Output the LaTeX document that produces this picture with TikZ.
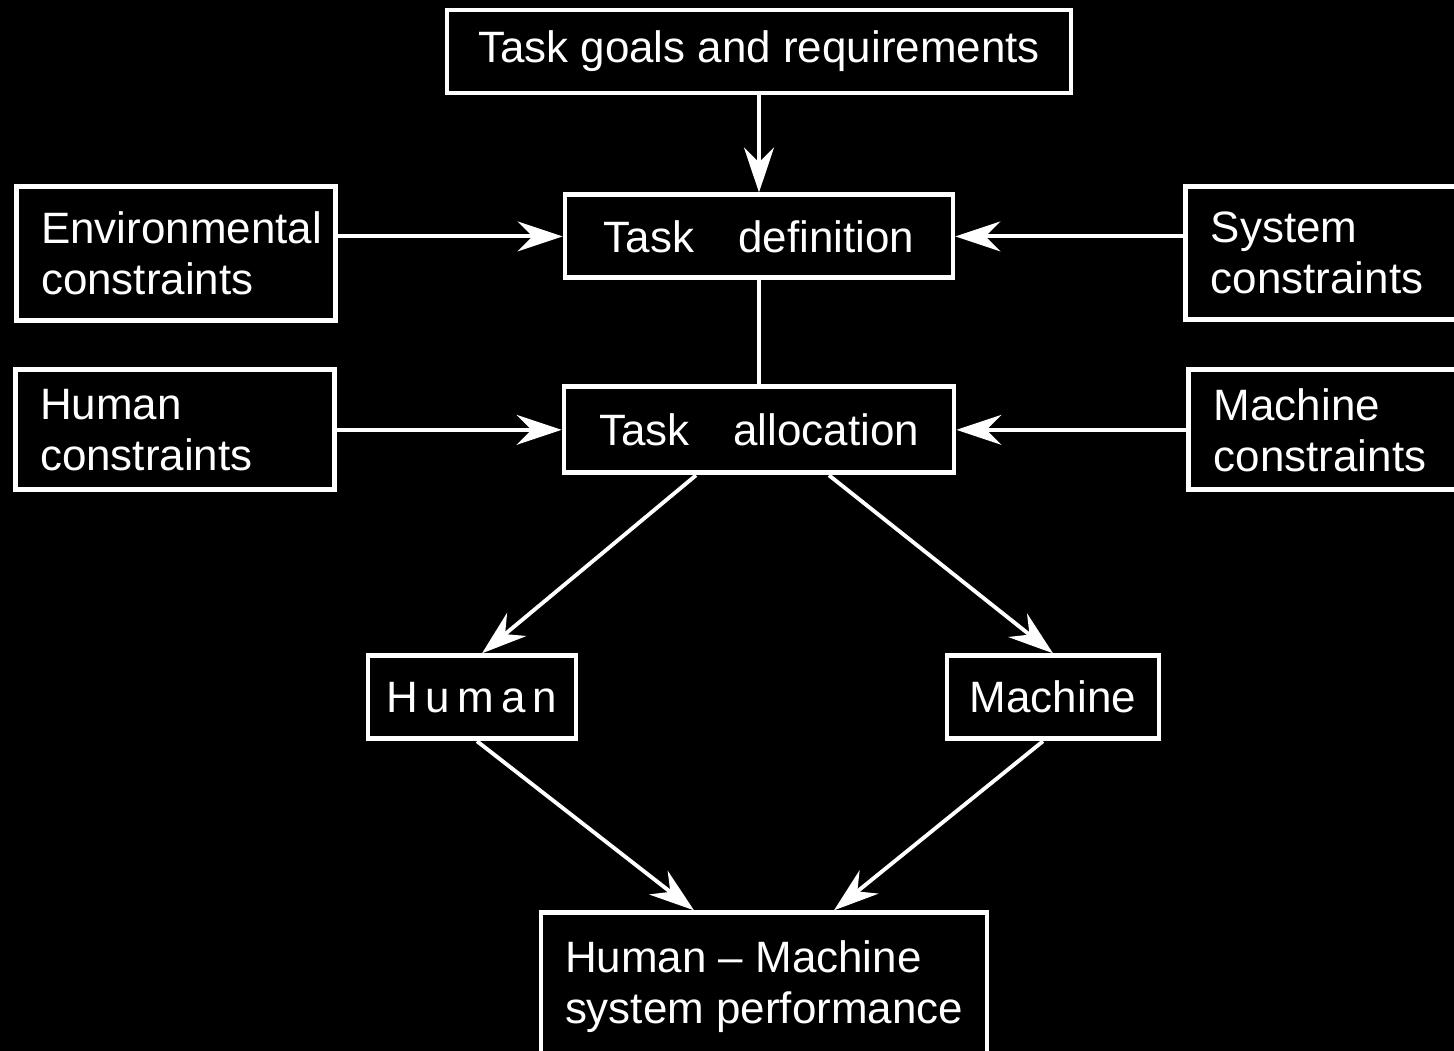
\documentclass[tikz,border=0pt]{standalone}
\usepackage{fontspec}
\setmainfont{Liberation Sans}
\usetikzlibrary{positioning, arrows.meta}

\begin{document}
\begin{tikzpicture}[
mybox/.style={rectangle,
  draw=white,
  line width=1.4pt,
  text=white,
  font=\fontsize{12.5}{14.5}\selectfont,
  inner sep=0pt,
  minimum height=0.83cm,
},
mysidebox/.style={mybox,
  align=left,
  text width=#1,
  inner xsep=0.25cm,
  minimum height=1.2cm,
},
myline/.style={white, line width=1.1pt},
myarrow/.style={->, myline},
>={Stealth[length=4.5mm,width=3mm,inset=1.5mm]}
]

\useasboundingbox (0,0) rectangle (14.54,-10.51);
\clip (0,0) rectangle (14.54,-10.51);
\fill[black] (0,0) rectangle (14.54,-10.51);

\node[mybox, minimum width=6.24cm] (goals) at (7.59,-0.515)
    {Task goals and requirements};
\node[mybox, minimum width=3.88cm, below=0.97cm of goals] (def)
    {Task\quad definition};
\node[mybox, minimum width=3.9cm, minimum height=0.86cm, below=1.04cm of def] (alloc)
    {Task\quad allocation};

\node[mysidebox=2.69cm, minimum height=1.34cm, left=2.25cm of def, yshift=-1.7mm] (envc)
    {Environmental\\constraints};
\node[mysidebox=2.69cm, left=2.25cm of alloc] (humc)
    {Human\\constraints};
\node[mysidebox=2.4cm, minimum height=1.33cm, right=2.28cm of def, yshift=-1.65mm] (sysc)
    {System\\constraints};
\node[mysidebox=2.4cm, right=2.30cm of alloc] (macc)
    {Machine\\constraints};

\node[mybox, minimum width=2.08cm, below=1.78cm of alloc, xshift=-2.87cm] (human)
    {H\,u\,m\,a\,n};
\node[mybox, minimum width=2.12cm, below=1.78cm of alloc, xshift=2.94cm] (machine)
    {Machine};
\node[mybox, align=left, minimum width=4.46cm, inner ysep=0.28cm, below=4.35cm of alloc, xshift=0.5mm] (perf)
    {Human -- Machine\\system performance};

\draw[myarrow] (goals) -- (def);
\draw[myarrow] (envc.east |- def) -- (def);
\draw[myarrow] (sysc.west |- def) -- (def);
\draw[myline] (def) -- (alloc);
\draw[myarrow] (humc) -- (alloc);
\draw[myarrow] (macc) -- (alloc);

\draw[myarrow] ([xshift=-6.3mm]alloc.south) -- ([xshift=1mm]human.north);
\draw[myarrow] ([xshift=7mm]alloc.south) -- (machine.north);
\draw[myarrow] ([xshift=0.5mm]human.south) -- ([xshift=-7mm]perf.north);
\draw[myarrow] ([xshift=-1mm]machine.south) -- ([xshift=7mm]perf.north);
\end{tikzpicture}
\end{document}
